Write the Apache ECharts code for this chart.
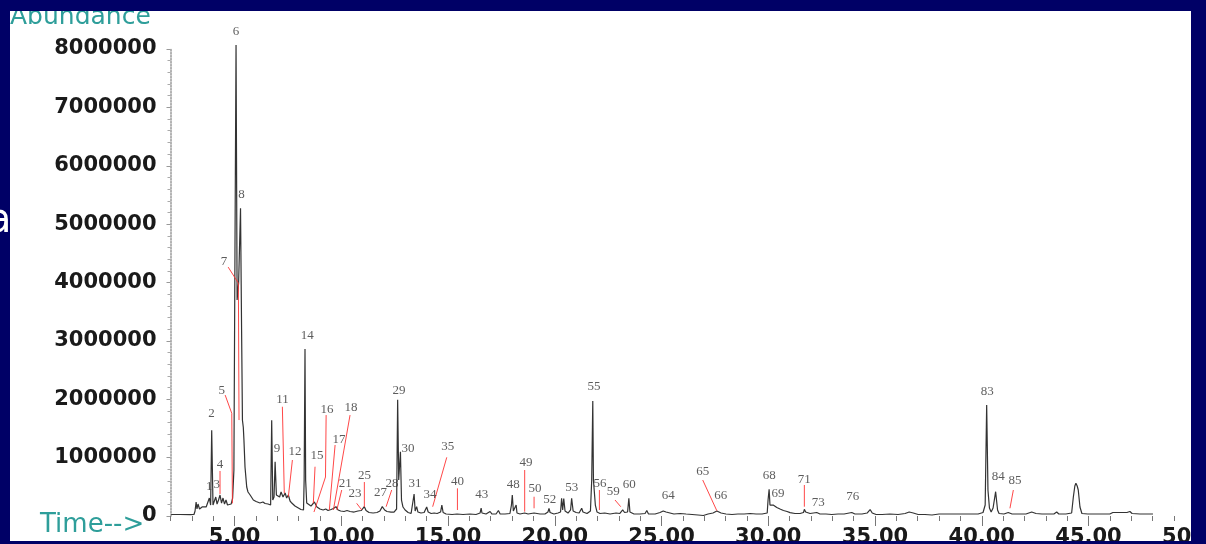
<!DOCTYPE html>
<html><head><meta charset="utf-8">
<script src="https://cdn.jsdelivr.net/npm/echarts@6/dist/echarts.min.js"></script>
<style>html,body{margin:0;padding:0;background:#000066;overflow:hidden}#c{width:1206px;height:544px}</style>
</head><body><div id="c"></div>
<script>
// Total ion chromatogram: [retention time (min), abundance]
const trace = [
[2.03,26000],[2.45,26000],[2.92,22000],[3.10,26000],[3.15,86000],[3.20,240000],[3.24,120000],[3.29,205000],
[3.36,120000],[3.48,155000],[3.57,137000],[3.67,155000],[3.76,171000],[3.82,308000],[3.88,188000],[3.93,1470000],
[3.99,188000],[4.06,222000],[4.12,325000],[4.18,205000],[4.25,274000],[4.32,360000],[4.39,222000],[4.46,308000],
[4.53,205000],[4.60,274000],[4.67,188000],[4.74,171000],[4.84,205000],[4.91,308000],[4.97,788000],[5.02,4550000],
[5.07,8070000],[5.12,3700000],[5.19,3990000],[5.23,4550000],[5.28,5270000],[5.33,3180000],[5.37,1640000],[5.41,1520000],
[5.44,1300000],[5.49,840000],[5.57,497000],[5.63,411000],[5.73,360000],[5.88,274000],[6.01,248000],[6.10,274000],
[6.19,222000],[6.33,240000],[6.43,214000],[6.57,205000],[6.69,188000],[6.74,1640000],[6.79,274000],[6.85,325000],
[6.90,930000],[6.96,360000],[7.04,394000],[7.11,325000],[7.18,411000],[7.27,325000],[7.37,394000],[7.44,308000],
[7.52,360000],[7.60,257000],[7.68,222000],[7.83,171000],[7.99,137000],[8.11,111000],[8.23,103000],[8.26,616000],
[8.30,2860000],[8.33,616000],[8.38,222000],[8.46,188000],[8.58,171000],[8.74,240000],[8.86,154000],[9.00,120000],
[9.15,103000],[9.27,120000],[9.38,94000],[9.52,111000],[9.63,128000],[9.75,160000],[9.85,103000],[9.97,86000],
[10.13,77000],[10.27,94000],[10.41,77000],[10.60,68000],[10.78,86000],[10.93,94000],[11.08,160000],[11.16,94000],
[11.30,60000],[11.49,51000],[11.67,60000],[11.81,86000],[11.92,160000],[12.03,103000],[12.14,77000],[12.33,68000],
[12.47,68000],[12.59,120000],[12.64,1990000],[12.69,616000],[12.77,1100000],[12.82,274000],[12.89,154000],[12.99,103000],
[13.13,60000],[13.27,43000],[13.36,68000],[13.41,377000],[13.46,86000],[13.53,160000],[13.59,68000],[13.73,51000],
[13.88,60000],[14.00,154000],[14.07,68000],[14.21,43000],[14.35,51000],[14.49,43000],[14.65,68000],[14.71,188000],
[14.77,60000],[14.91,34000],[15.19,26000],[15.42,34000],[15.70,26000],[16.03,34000],[16.31,26000],[16.50,51000],
[16.55,137000],[16.59,51000],[16.78,34000],[16.97,77000],[17.06,34000],[17.25,34000],[17.36,94000],[17.44,34000],
[17.67,34000],[17.90,43000],[17.97,188000],[18.01,360000],[18.06,86000],[18.14,68000],[18.19,188000],[18.23,51000],
[18.37,34000],[18.59,51000],[18.75,34000],[19.03,51000],[19.31,34000],[19.54,34000],[19.68,68000],[19.73,132000],
[19.78,60000],[19.96,34000],[20.15,51000],[20.27,68000],[20.32,303000],[20.37,103000],[20.42,300000],[20.48,86000],
[20.62,51000],[20.74,103000],[20.79,303000],[20.86,86000],[21.00,60000],[21.14,51000],[21.26,132000],[21.32,68000],
[21.51,43000],[21.67,86000],[21.73,616000],[21.78,1970000],[21.81,616000],[21.85,650000],[21.90,188000],[21.98,68000],
[22.12,43000],[22.34,51000],[22.59,34000],[22.87,51000],[23.05,43000],[23.18,103000],[23.27,60000],[23.41,68000],
[23.47,303000],[23.52,68000],[23.71,34000],[23.99,34000],[24.23,43000],[24.31,94000],[24.39,34000],[24.70,34000],
[24.93,60000],[25.08,86000],[25.21,68000],[25.30,43000],[25.58,34000],[25.87,43000],[26.15,34000],[26.43,26000],
[26.71,17000],[26.96,9000],[27.18,34000],[27.41,51000],[27.59,86000],[27.66,94000],[27.79,51000],[28.02,34000],
[28.30,26000],[28.58,34000],[28.87,34000],[29.15,43000],[29.43,34000],[29.71,34000],[29.95,51000],[29.99,274000],
[30.04,457000],[30.08,188000],[30.12,217000],[30.23,188000],[30.40,146000],[30.55,120000],[30.71,94000],[30.88,77000],
[31.02,57000],[31.25,43000],[31.49,43000],[31.65,60000],[31.69,115000],[31.75,68000],[31.96,43000],[32.27,60000],
[32.42,34000],[32.70,34000],[32.98,26000],[33.27,34000],[33.55,34000],[33.91,60000],[34.06,34000],[34.39,34000],
[34.63,51000],[34.77,111000],[34.87,51000],[35.05,26000],[35.33,26000],[35.70,34000],[36.08,26000],[36.41,43000],
[36.60,68000],[36.79,51000],[37.02,26000],[37.34,26000],[37.67,17000],[38.00,34000],[38.05,68000],[38.09,34000],
[38.42,34000],[38.75,34000],[39.08,34000],[39.45,34000],[39.83,34000],[40.06,60000],[40.16,188000],[40.23,1900000],
[40.29,445000],[40.36,137000],[40.44,68000],[40.53,137000],[40.65,416000],[40.74,103000],[40.81,43000],[41.04,34000],
[41.24,60000],[41.42,34000],[41.79,34000],[42.07,34000],[42.34,68000],[42.54,43000],[42.82,34000],[43.10,34000],
[43.38,34000],[43.51,68000],[43.61,34000],[43.94,34000],[44.21,51000],[44.29,325000],[44.36,514000],[44.41,560000],
[44.47,514000],[44.52,445000],[44.60,154000],[44.69,43000],[44.97,34000],[45.30,34000],[45.63,34000],[46.00,34000],
[46.14,60000],[46.47,60000],[46.80,60000],[46.94,77000],[47.04,43000],[47.41,34000],[47.74,34000],[48.02,34000]
];

// Peak number labels
const peakNumbers   = ['1','2','3','4','5','6','7','8','9','11','12','14','15','16','17','18','21','23','25','27','28','29','30','31','34','35','40','43','48','49','50','52','53','55','56','59','60','64','65','66','68','69','71','73','76','83','84','85'];
const peakLabelTime = [3.81,3.92,4.17,4.32,4.40,5.07,4.51,5.33,6.99,7.25,7.83,8.40,8.86,9.33,9.89,10.46,10.18,10.64,11.09,11.84,12.38,12.70,13.13,13.45,14.16,14.99,15.44,16.58,18.06,18.65,19.07,19.77,20.79,21.84,22.12,22.74,23.49,25.32,26.93,27.77,30.05,30.46,31.69,32.34,33.96,40.26,40.77,41.56];
const peakLabelAbund = [497000,1747000,531000,873000,2157000,8290000,4366000,5514000,1147000,1986000,1096000,3099000,1027000,1815000,1301000,1849000,548000,377000,685000,394000,548000,2157000,1147000,548000,360000,1181000,582000,360000,539000,908000,471000,274000,488000,2209000,556000,411000,531000,342000,753000,342000,685000,377000,616000,223000,325000,2123000,668000,599000];

// Red leader lines from label to peak: [time, abundance] vertices
const leaderPaths = [
 [[4.32,771000],[4.32,377000]],
 [[4.56,2072000],[4.87,1759000],[4.90,217000]],
 [[4.70,4264000],[5.18,3990000],[5.21,1644000]],
 [[7.24,1872000],[7.33,389000]],
 [[7.71,959000],[7.52,330000]],
 [[8.77,844000],[8.69,217000]],
 [[9.29,1729000],[9.26,668000],[8.72,68000]],
 [[9.71,1216000],[9.44,103000]],
 [[10.41,1729000],[9.63,103000]],
 [[10.02,445000],[9.79,103000]],
 [[10.72,217000],[10.96,103000]],
 [[11.08,582000],[11.08,154000]],
 [[12.36,445000],[12.10,159000]],
 [[14.94,1005000],[14.28,159000]],
 [[15.44,474000],[15.44,103000]],
 [[18.59,788000],[18.59,74000]],
 [[19.03,330000],[19.03,132000]],
 [[22.09,445000],[22.09,103000]],
 [[22.82,274000],[23.09,159000]],
 [[26.93,616000],[27.59,91000]],
 [[31.69,531000],[31.69,159000]],
 [[41.48,445000],[41.32,132000]]
];

const timeLabelValues = [5,10,15,20,25,30,35,40,45,50];
const abundanceInterval = 1000000;

const navy = '#000066';
const teal = '#2e9e9a';
const chart = echarts.init(document.getElementById('c'));
chart.setOption({
  animation: false,
  backgroundColor: '#ffffff',
  title: {
    text: 'Abundance', left: 10, top: 5, padding: 0,
    textStyle: {color: teal, fontFamily: 'DejaVu Sans', fontSize: 25, fontWeight: 'normal'}
  },
  grid: {left: 170.5, right: 10.75, top: 49, bottom: 28, containLabel: false, outerBoundsMode: 'none'},
  xAxis: [{
    type: 'value', min: 2, max: 50, interval: 1,
    axisLine: {show: false},
    axisTick: {show: true, length: 5, lineStyle: {color: '#777'}},
    splitLine: {show: false},
    axisLabel: {
      customValues: timeLabelValues,
      formatter: v => v.toFixed(2),
      margin: 11, color: '#1a1a1a', fontFamily: 'DejaVu Sans', fontSize: 21, fontWeight: 'bold'
    }
  }, {
    type: 'value', min: 2, max: 50, position: 'bottom',
    axisLine: {show: false},
    axisTick: {show: true, customValues: timeLabelValues, length: 10, lineStyle: {color: '#777'}},
    axisLabel: {show: false}, splitLine: {show: false}
  }],
  yAxis: {
    type: 'value', min: 0, max: 8000000, interval: abundanceInterval,
    axisLine: {show: true, lineStyle: {color: '#999', type: 'dotted', width: 1.5}},
    axisTick: {show: true, length: 4, lineStyle: {color: '#999'}},
    minorTick: {show: true, splitNumber: 5, length: 3, lineStyle: {color: '#aaa'}},
    splitLine: {show: false},
    axisLabel: {margin: 14, color: '#1a1a1a', fontFamily: 'DejaVu Sans', fontSize: 21, fontWeight: 'bold', formatter: v => String(v)}
  },
  series: [{
    type: 'line', data: trace, showSymbol: false, clip: false,
    lineStyle: {color: '#333', width: 1.2}, z: 3
  }, {
    type: 'lines', coordinateSystem: 'cartesian2d', polyline: true, z: 4,
    lineStyle: {color: '#ff3333', width: 1, opacity: 0.9},
    data: leaderPaths.map(p => ({coords: p}))
  }, {
    type: 'scatter', symbolSize: 0, z: 5, clip: false,
    data: peakNumbers.map((n, i) => ({value: [peakLabelTime[i], peakLabelAbund[i]], name: n})),
    label: {show: true, position: 'inside', formatter: p => p.name, color: '#333', fontFamily: 'Liberation Serif', fontSize: 13}
  }],
  graphic: [
    {type: 'rect', z: 100, shape: {x: 0, y: 0, width: 1206, height: 11}, style: {fill: navy}},
    {type: 'rect', z: 100, shape: {x: 0, y: 0, width: 10, height: 544}, style: {fill: navy}},
    {type: 'rect', z: 100, shape: {x: 1191, y: 0, width: 15, height: 544}, style: {fill: navy}},
    {type: 'rect', z: 100, shape: {x: 0, y: 541, width: 1206, height: 3}, style: {fill: navy}},
    {type: 'text', z: 101, x: -13, y: 222, style: {text: 'a', fill: '#ffffff', font: '40px "DejaVu Sans"', verticalAlign: 'middle'}},
    {type: 'text', z: 50, x: 40, y: 525, style: {text: 'Time-->', fill: teal, font: '26px "DejaVu Sans"', verticalAlign: 'middle'}}
  ]
});
</script></body></html>
